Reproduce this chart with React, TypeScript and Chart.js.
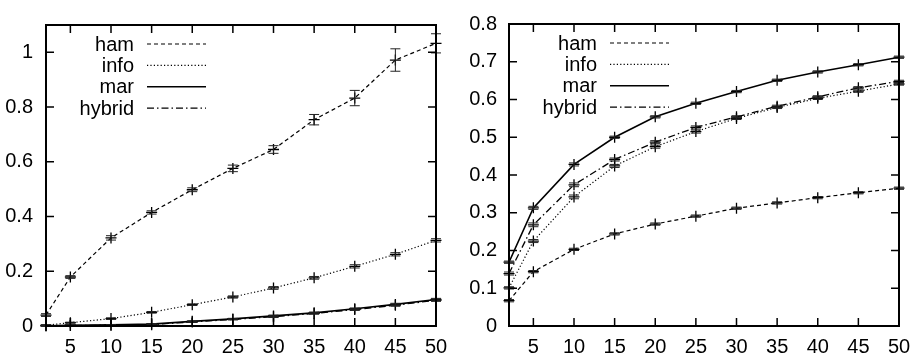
import { useEffect, useRef } from "react";
import { Chart, registerables } from "chart.js";

Chart.register(...registerables);

// ---------- data ----------
const xValues = [2, 5, 10, 15, 20, 25, 30, 35, 40, 45, 50];
const xTicks = [5, 10, 15, 20, 25, 30, 35, 40, 45, 50];
const seriesLabels = ["ham", "info", "mar", "hybrid"];

const leftYTicks = [0, 0.2, 0.4, 0.6, 0.8, 1];
const rightYTicks = [0, 0.1, 0.2, 0.3, 0.4, 0.5, 0.6, 0.7, 0.8];

// left panel
const hamLeft = [0.04, 0.179, 0.322, 0.415, 0.498, 0.576, 0.645, 0.754, 0.833, 0.972, 1.033];
const hamLeftErr = [0.005, 0.005, 0.008, 0.006, 0.007, 0.012, 0.014, 0.019, 0.028, 0.041, 0.035];
const infoLeft = [0.003, 0.012, 0.027, 0.05, 0.078, 0.106, 0.139, 0.176, 0.218, 0.262, 0.313];
const infoLeftErr = [0.002, 0.002, 0.003, 0.003, 0.003, 0.004, 0.005, 0.005, 0.006, 0.006, 0.006];
const marLeft = [0.001, 0.003, 0.004, 0.007, 0.017, 0.026, 0.037, 0.048, 0.063, 0.079, 0.097];
const marLeftErr = [0.001, 0.001, 0.001, 0.002, 0.002, 0.002, 0.003, 0.003, 0.003, 0.004, 0.004];
const hybridLeft = [0.001, 0.002, 0.003, 0.005, 0.015, 0.024, 0.034, 0.046, 0.06, 0.076, 0.094];
const hybridLeftErr = [0.001, 0.001, 0.001, 0.002, 0.002, 0.002, 0.003, 0.003, 0.003, 0.004, 0.004];

// right panel
const hamRight = [0.067, 0.144, 0.203, 0.244, 0.27, 0.291, 0.312, 0.326, 0.34, 0.353, 0.365];
const hamRightErr = [0.003, 0.003, 0.003, 0.003, 0.003, 0.003, 0.003, 0.003, 0.003, 0.003, 0.003];
const infoRight = [0.101, 0.225, 0.342, 0.424, 0.475, 0.515, 0.55, 0.579, 0.603, 0.622, 0.641];
const infoRightErr = [0.003, 0.004, 0.005, 0.004, 0.004, 0.004, 0.003, 0.003, 0.003, 0.003, 0.003];
const marRight = [0.169, 0.313, 0.428, 0.5, 0.554, 0.59, 0.621, 0.651, 0.673, 0.692, 0.712];
const marRightErr = [0.003, 0.004, 0.004, 0.003, 0.003, 0.003, 0.003, 0.003, 0.003, 0.003, 0.003];
const hybridRight = [0.139, 0.268, 0.374, 0.441, 0.487, 0.526, 0.554, 0.582, 0.607, 0.631, 0.648];
const hybridRightErr = [0.004, 0.005, 0.005, 0.004, 0.004, 0.004, 0.003, 0.003, 0.003, 0.003, 0.003];

// ---------- styles ----------
const FONT = "'Liberation Sans', Arial, Helvetica, sans-serif";
const lineStyles: Record<string, { dash: number[]; width: number }> = {
  ham: { dash: [4, 3], width: 1.2 },
  info: { dash: [1.2, 2.2], width: 1.2 },
  mar: { dash: [], width: 1.6 },
  hybrid: { dash: [7, 3, 1.5, 3], width: 1.3 },
};

function makeDataset(label: string, values: number[], errors: number[]) {
  const st = lineStyles[label];
  return {
    label,
    data: xValues.map((x, i) => ({ x, y: values[i] })),
    errors,
    borderColor: "#000",
    backgroundColor: "#000",
    borderWidth: st.width,
    borderDash: st.dash,
    pointStyle: "cross",
    pointRadius: 5.5,
    pointBorderWidth: 1.3,
    pointBorderColor: "#000",
    pointHoverRadius: 5.5,
    tension: 0,
    fill: false,
    clip: false,
  };
}

const frameTicksPlugin = {
  id: "frameTicks",
  afterDraw(chart: any) {
    const { ctx, chartArea } = chart;
    const { left, right, top, bottom } = chartArea;
    const xs = chart.scales.x;
    const ys = chart.scales.y;
    const len = 8;
    ctx.save();
    ctx.strokeStyle = "#000";
    ctx.setLineDash([]);
    ctx.lineWidth = 1.5;
    ctx.beginPath();
    xs.ticks.forEach((t: any) => {
      const px = xs.getPixelForValue(t.value);
      ctx.moveTo(px, bottom);
      ctx.lineTo(px, bottom - len);
      ctx.moveTo(px, top);
      ctx.lineTo(px, top + len);
    });
    ys.ticks.forEach((t: any) => {
      const py = ys.getPixelForValue(t.value);
      ctx.moveTo(left, py);
      ctx.lineTo(left + len, py);
      ctx.moveTo(right, py);
      ctx.lineTo(right - len, py);
    });
    ctx.stroke();
    ctx.lineWidth = 2;
    ctx.strokeRect(left, top, right - left, bottom - top);
    ctx.restore();
  },
};

const errorBarsPlugin = {
  id: "errorBars",
  afterDatasetsDraw(chart: any) {
    const ctx = chart.ctx;
    const ys = chart.scales.y;
    chart.data.datasets.forEach((ds: any, di: number) => {
      const errs: number[] = ds.errors;
      if (!errs) return;
      const meta = chart.getDatasetMeta(di);
      ctx.save();
      ctx.strokeStyle = "#222";
      ctx.lineWidth = 1;
      ctx.setLineDash([]);
      ctx.beginPath();
      meta.data.forEach((pt: any, i: number) => {
        const e = errs[i];
        if (!e) return;
        const v = ds.data[i].y;
        const y1 = ys.getPixelForValue(v + e);
        const y2 = ys.getPixelForValue(v - e);
        const x = pt.x;
        ctx.moveTo(x, y1);
        ctx.lineTo(x, y2);
        ctx.moveTo(x - 5, y1);
        ctx.lineTo(x + 5, y1);
        ctx.moveTo(x - 5, y2);
        ctx.lineTo(x + 5, y2);
      });
      ctx.stroke();
      ctx.restore();
    });
  },
};

const keyPlugin = {
  id: "gnuKey",
  afterDraw(chart: any) {
    const { ctx, chartArea } = chart;
    const textRight = chartArea.left + 88;
    const lineStart = chartArea.left + 101;
    const lineEnd = chartArea.left + 160;
    ctx.save();
    ctx.font = `20px ${FONT}`;
    ctx.fillStyle = "#000";
    ctx.textAlign = "right";
    ctx.textBaseline = "middle";
    chart.data.datasets.forEach((ds: any, i: number) => {
      const y = chartArea.top + 19 + i * 21.4;
      ctx.fillText(ds.label, textRight, y + 1);
      ctx.strokeStyle = "#000";
      ctx.lineWidth = ds.borderWidth;
      ctx.setLineDash(ds.borderDash || []);
      ctx.beginPath();
      ctx.moveTo(lineStart, y);
      ctx.lineTo(lineEnd, y);
      ctx.stroke();
    });
    ctx.restore();
  },
};

type PanelProps = {
  series: { label: string; values: number[]; errors: number[] }[];
  yMax: number;
  yTicks: number[];
  yAxisWidth: number;
  rightPad: number;
  yPadding: number;
};

function Panel({ series, yMax, yTicks, yAxisWidth, rightPad, yPadding }: PanelProps) {
  const ref = useRef<HTMLCanvasElement | null>(null);
  useEffect(() => {
    if (!ref.current) return;
    const chart = new Chart(ref.current, {
      type: "line",
      data: {
        datasets: series.map((s) => makeDataset(s.label, s.values, s.errors)) as any,
      },
      options: {
        animation: false,
        responsive: false,
        devicePixelRatio: 1,
        layout: { padding: { top: 14, right: rightPad, left: 0, bottom: 0 } },
        plugins: {
          legend: { display: false },
          tooltip: { enabled: false },
        },
        scales: {
          x: {
            type: "linear",
            min: 2,
            max: 50,
            grid: { display: false, drawTicks: false },
            border: { display: false },
            afterBuildTicks: (s: any) => {
              s.ticks = xTicks.map((v) => ({ value: v }));
            },
            afterFit: (s: any) => {
              s.height = 32;
            },
            ticks: {
              color: "#000",
              font: { family: FONT, size: 20 },
              padding: 9,
              maxRotation: 0,
              autoSkip: false,
              callback: (v: any) => String(v),
            },
          },
          y: {
            type: "linear",
            min: 0,
            max: yMax,
            grid: { display: false, drawTicks: false },
            border: { display: false },
            afterBuildTicks: (s: any) => {
              s.ticks = yTicks.map((v) => ({ value: v }));
            },
            afterFit: (s: any) => {
              s.width = yAxisWidth;
            },
            ticks: {
              color: "#000",
              font: { family: FONT, size: 20 },
              padding: yPadding,
              autoSkip: false,
              callback: (v: any) => String(+Number(v).toFixed(2)),
            },
          },
        },
      } as any,
      plugins: [errorBarsPlugin, frameTicksPlugin, keyPlugin],
    });
    return () => chart.destroy();
  }, []);
  return <canvas ref={ref} width={460} height={358} style={{ display: "block", width: 460, height: 358 }} />;
}

export default function App() {
  const leftSeries = [
    { label: seriesLabels[0], values: hamLeft, errors: hamLeftErr },
    { label: seriesLabels[1], values: infoLeft, errors: infoLeftErr },
    { label: seriesLabels[2], values: marLeft, errors: marLeftErr },
    { label: seriesLabels[3], values: hybridLeft, errors: hybridLeftErr },
  ];
  const rightSeries = [
    { label: seriesLabels[0], values: hamRight, errors: hamRightErr },
    { label: seriesLabels[1], values: infoRight, errors: infoRightErr },
    { label: seriesLabels[2], values: marRight, errors: marRightErr },
    { label: seriesLabels[3], values: hybridRight, errors: hybridRightErr },
  ];
  return (
    <div
      style={{
        position: "absolute",
        left: 0,
        top: 0,
        width: 920,
        height: 358,
        display: "flex",
        background: "#fff",
      }}
    >
      <Panel series={leftSeries} yMax={1.1} yTicks={leftYTicks} yAxisWidth={46} rightPad={24} yPadding={13} />
      <Panel series={rightSeries} yMax={0.8} yTicks={rightYTicks} yAxisWidth={49} rightPad={21} yPadding={12} />
    </div>
  );
}
